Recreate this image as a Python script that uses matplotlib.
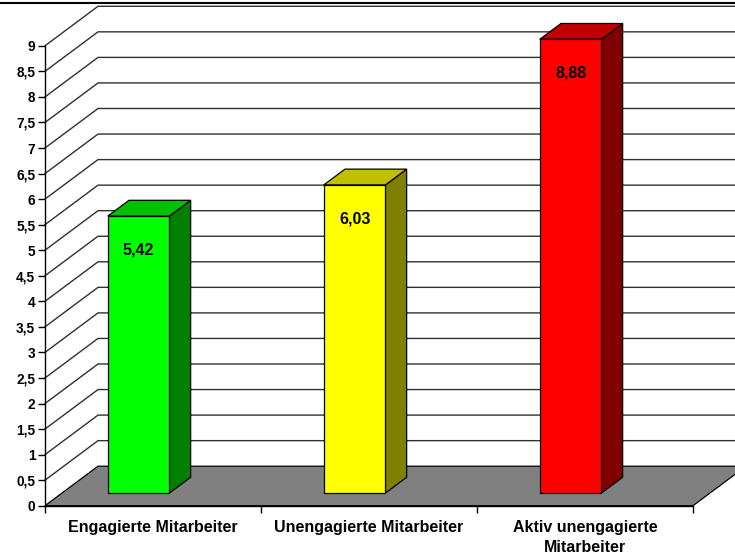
import numpy as np
import matplotlib
matplotlib.use('Agg')
from matplotlib import pyplot as plt
from matplotlib.patches import Polygon
from matplotlib.lines import Line2D
from matplotlib.ticker import FuncFormatter

##################
# data
##################
categories = ['Engagierte Mitarbeiter', 'Unengagierte Mitarbeiter', 'Aktiv unengagierte\nMitarbeiter']
values = [5.42, 6.03, 8.88]
value_labels = ['5,42', '6,03', '8,88']
face_colors = ['#00ff00', '#ffff00', '#ff0000']
top_colors = ['#00c000', '#c0c000', '#c00000']
side_colors = ['#008000', '#808000', '#800000']

##################
# 3d look parameters (depth in data units)
##################
DX = 0.2454     # x shift of full depth
DY = 0.773      # y shift of full depth
f0, f1 = 0.32, 0.72   # bar front / back depth fraction
bar_off = -0.288
bar_w = 0.2856

plt.rcParams['font.family'] = ['Liberation Sans', 'DejaVu Sans']
plt.rcParams['font.weight'] = 'bold'

fig = plt.figure(figsize=(7.35, 5.56), dpi=100)
ax = fig.add_axes([45 / 735, 50.3 / 556, 648 / 735, 459.9 / 556])
ax.set_xlim(0, 3)
ax.set_ylim(0, 9)
ax.patch.set_visible(False)


def proj(x, y, f):
    return (x + f * DX, y + f * DY)


# floor
floor = Polygon([proj(0, 0, 0), proj(3, 0, 0), proj(3, 0, 1), proj(0, 0, 1)],
                closed=True, facecolor='#808080', edgecolor='black', lw=0.9,
                clip_on=False, zorder=1)
ax.add_patch(floor)

# grid on side and back wall
for v in np.arange(0.5, 9.01, 0.5):
    pts = [proj(0, v, 0), proj(0, v, 1), proj(3, v, 1)]
    ax.plot([p[0] for p in pts], [p[1] for p in pts], color='#303030', lw=1.0,
            clip_on=False, zorder=1)

# bars
for i, v in enumerate(values):
    x0 = i + 0.5 + bar_off
    x1 = x0 + bar_w
    front = [proj(x0, 0, f0), proj(x1, 0, f0), proj(x1, v, f0), proj(x0, v, f0)]
    side = [proj(x1, 0, f0), proj(x1, 0, f1), proj(x1, v, f1), proj(x1, v, f0)]
    top = [proj(x0, v, f0), proj(x1, v, f0), proj(x1, v, f1), proj(x0, v, f1)]
    for pts, c in [(side, side_colors[i]), (top, top_colors[i]), (front, face_colors[i])]:
        ax.add_patch(Polygon(pts, closed=True, facecolor=c, edgecolor='black',
                             lw=0.9, clip_on=False, zorder=3))
    lx, ly = proj((x0 + x1) / 2, v - 0.66, f0)
    ax.text(lx, ly, value_labels[i], ha='center', va='center', fontsize=11.5,
            fontweight='bold', zorder=4)

##################
# axes
##################
for s in ['top', 'right']:
    ax.spines[s].set_visible(False)
ax.spines['left'].set_linewidth(1.0)
ax.spines['bottom'].set_linewidth(1.0)
ax.spines['left'].set_zorder(5)
ax.spines['bottom'].set_zorder(5)

ax.set_yticks(np.arange(0, 9.01, 0.5))
ax.yaxis.set_major_formatter(FuncFormatter(lambda y, p: ('%g' % y).replace('.', ',')))
ax.tick_params(axis='y', length=5, width=1.0, labelsize=9.8, pad=2)

ax.set_xticks([0, 1, 2, 3])
ax.set_xticklabels([])
ax.tick_params(axis='x', which='major', length=5, width=1.0)
ax.set_xticks([0.5, 1.5, 2.5], minor=True)
ax.set_xticklabels(categories, minor=True, fontsize=11.5, fontweight='bold',
                   linespacing=1.4)
ax.tick_params(axis='x', which='minor', length=0, pad=10.5)

# top border of the cut-off frame
fig.add_artist(Line2D([0, 1], [1 - 3 / 556, 1 - 3 / 556], color='black', lw=1.5,
                      transform=fig.transFigure))

fig.savefig('out.png', dpi=100, facecolor='white')
